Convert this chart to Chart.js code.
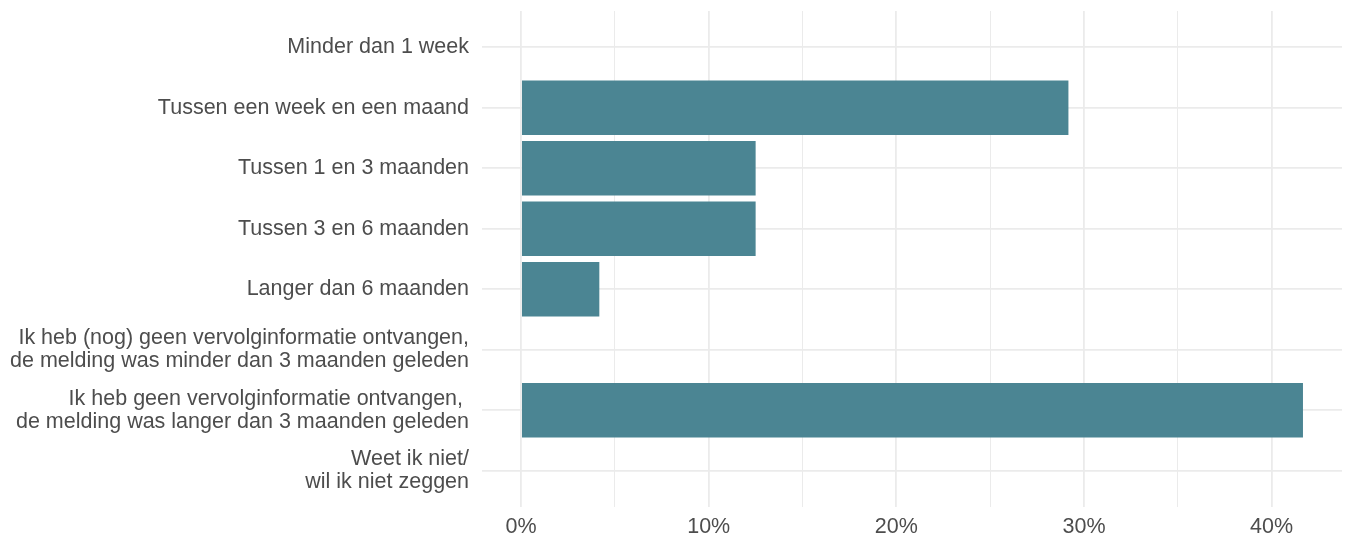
<!DOCTYPE html>
<html>
<head>
<meta charset="utf-8">
<script src="https://cdn.jsdelivr.net/npm/chart.js@4.4.1/dist/chart.umd.min.js"></script>
<style>
  html, body { margin: 0; padding: 0; background: #fff; }
  #wrap { width: 1354px; height: 537px; position: relative; }
</style>
</head>
<body>
<div id="wrap"><canvas id="duurChart"></canvas></div>
<script>
// antwoordcategorieen (meerregelige labels als arrays)
const categorieen = [
  ['Minder dan 1 week'],
  ['Tussen een week en een maand'],
  ['Tussen 1 en 3 maanden'],
  ['Tussen 3 en 6 maanden'],
  ['Langer dan 6 maanden'],
  ['Ik heb (nog) geen vervolginformatie ontvangen,', 'de melding was minder dan 3 maanden geleden'],
  ['Ik heb geen vervolginformatie ontvangen, ', 'de melding was langer dan 3 maanden geleden'],
  ['Weet ik niet/', 'wil ik niet zeggen']
];
const percentages = [0, 29.17, 12.5, 12.5, 4.17, 0, 41.67, 0];
const xTicks = [0, 5, 10, 15, 20, 25, 30, 35, 40];

const tekstFont = { family: '"Liberation Sans", Arial, sans-serif', size: 21.5, lineHeight: 1.07 };
const gridKleur = '#ebebeb';

const ctx = document.getElementById('duurChart').getContext('2d');

new Chart(ctx, {
    type: 'bar',
    data: {
        datasets: [{
            data: percentages.map((p, i) => ({ x: p, y: i })),
            backgroundColor: '#4b8593',
            borderWidth: 0,
            barPercentage: 0.9,
            categoryPercentage: 1.0
        }]
    },
    options: {
        indexAxis: 'y',
        responsive: true,
        maintainAspectRatio: false,
        animation: false,
        layout: { padding: { top: 11, right: 12, left: 0, bottom: 0 } },
        plugins: { legend: { display: false }, tooltip: { enabled: false } },
        scales: {
            x: {
                type: 'linear',
                min: -2.083,
                max: 43.75,
                border: { display: false },
                afterBuildTicks: (scale) => { scale.ticks = xTicks.map(v => ({ value: v })); },
                afterFit: (scale) => {
                    scale.height = 30;
                    scale.paddingLeft = 0;
                    scale.paddingRight = 0;
                },
                grid: {
                    color: gridKleur,
                    drawTicks: false,
                    lineWidth: (c) => (c.tick && c.tick.value % 10 === 0) ? 1.8 : 1
                },
                ticks: {
                    padding: 9,
                    color: '#4d4d4d',
                    font: tekstFont,
                    maxRotation: 0,
                    autoSkip: false,
                    callback: (v) => v % 10 === 0 ? v + '%' : ''
                }
            },
            y: {
                type: 'linear',
                reverse: true,
                min: -0.6,
                max: 7.6,
                offset: false,
                border: { display: false },
                afterBuildTicks: (scale) => { scale.ticks = categorieen.map((_, i) => ({ value: i })); },
                afterFit: (scale) => {
                    // labels mogen buiten het plotgebied uitsteken
                    scale.width = 482;
                    scale.paddingTop = 0;
                    scale.paddingBottom = 0;
                },
                grid: {
                    color: gridKleur,
                    offset: false,
                    drawTicks: false,
                    lineWidth: 1.8
                },
                ticks: {
                    padding: 13,
                    color: '#4d4d4d',
                    font: tekstFont,
                    autoSkip: false,
                    callback: (v) => categorieen[v]
                }
            }
        }
    }
});
</script>
</body>
</html>
